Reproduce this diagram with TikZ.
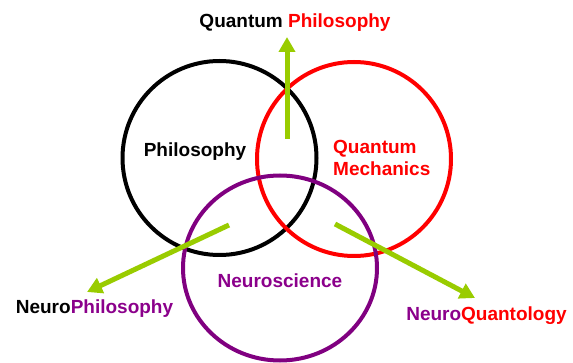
\documentclass[tikz,border=0pt]{standalone}
\usepackage{fontspec}
\setmainfont{Liberation Sans}
\usetikzlibrary{arrows.meta}
\definecolor{grn}{HTML}{99CC00}
\definecolor{purp}{HTML}{800080}
\definecolor{ptxt}{HTML}{8B008B}
\definecolor{rd}{HTML}{FF0000}
\tikzset{
  ring/.style={line width=4pt},
  lbl/.style={font=\fontsize{19}{22}\selectfont\bfseries, inner sep=0pt},
  garrow/.style={draw=grn, line width=5pt, -{Triangle[length=15pt,width=16pt]}},
}
\begin{document}
\begin{tikzpicture}[x=1pt,y=-1pt]
\useasboundingbox (0,0) rectangle (573,363);
% circles
\draw[ring, black] (219.5,158) circle[radius=97];
\draw[ring, rd] (354,159) circle[radius=97];
\draw[ring, purp] (280,268) ellipse[x radius=97, y radius=92.5];
% arrow endpoints
\coordinate (u1) at (287,139);
\coordinate (u2) at (287,37);
\coordinate (l1) at (229,225);
\coordinate (l2) at (87,292);
\coordinate (r1) at (335,224);
\coordinate (r2) at (475,298);
\draw[garrow] (u1) -- (u2);
\draw[garrow] (l1) -- (l2);
\draw[garrow] (r1) -- (r2);
% labels
\node[lbl, anchor=base] (qp) at (295,28) {Quantum \textcolor{rd}{Philosophy}};
\node[lbl, anchor=base] (ph) at (195,157) {Philosophy};
\node[lbl, anchor=base west, text=rd] (qm1) at (333,154) {Quantum};
\node[lbl, anchor=base west, text=rd] (qm2) at (333,175.5) {Mechanics};
\node[lbl, anchor=base, text=ptxt] (ns) at (280,288) {Neuroscience};
\node[lbl, anchor=base] (np) at (94.5,314) {Neuro\textcolor{ptxt}{Philosophy}};
\node[lbl, anchor=base, text=ptxt] (nq) at (486.5,321) {Neuro\textcolor{rd}{Quantology}};
\end{tikzpicture}
\end{document}
